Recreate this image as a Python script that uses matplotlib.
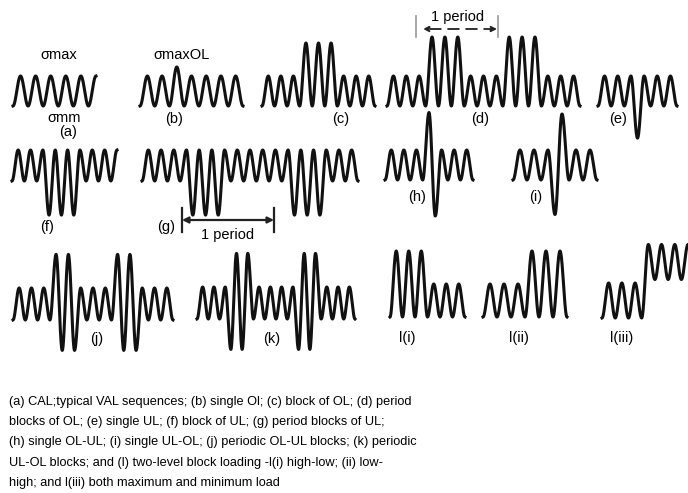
import numpy as np
import matplotlib.pyplot as plt

plt.rcParams['font.family'] = ['Liberation Sans', 'DejaVu Sans']

# ── Load sequences: turning points of each sketch (valley = 0, normal peak = 1) ──
seq_a = [0, 1, 0, 1, 0, 1, 0, 1, 0, 1, 0, 1]
seq_b = [0, 1, 0, 1, 0, 1.3, 0, 1, 0, 1, 0, 1, 0, 1, 0]
seq_c = [0, 1, 0, 1, 0, 1, 0, 2.1, 0, 2.1, 0, 2.1, 0, 1, 0, 1, 0, 1, 0]
seq_d = [0, 1, 0, 1, 0, 1, 0, 2.3, 0, 2.3, 0, 2.3, 0, 1, 0, 1, 0, 1, 0,
         2.3, 0, 2.3, 0, 2.3, 0, 1, 0, 1, 0, 1, 0]
seq_e = [0, 1, 0, 1, 0, 1, -1.07, 1, 0, 1, 0, 1, 0]
seq_f = [0, 1, 0, 1, 0, 1, -1.1, 1, -1.1, 1, -1.1, 1, 0, 1, 0, 1, 0, 1]
seq_g = [0, 1, 0, 1, 0, 1, 0, 1, -1.1, 1, -1.1, 1, -1.1, 1,
         0, 1, 0, 1, 0, 1, 0, 1, 0, 1, -1.1, 1, -1.1, 1, -1.1, 1, 0, 1, 0, 1, 0]
seq_h = [0, 1, 0, 1, 0, 1, 0, 2.25, -1.2, 1, 0, 1, 0, 1, 0]
seq_i = [0, 1, 0, 1, 0, 1, -1.15, 2.2, 0, 1, 0, 1, 0]
seq_j = [0, 1, 0, 1, 0, 1, 0, 2.05, -0.95, 2.05, -0.95, 1, 0, 1, 0, 1, 0,
         2.05, -0.95, 2.05, -0.95, 1, 0, 1, 0, 1, 0]
seq_k = [0, 1, 0, 1, 0, 1, -0.95, 2.05, -0.95, 2.05, 0, 1, 0, 1, 0, 1, 0, 1,
         -0.95, 2.05, -0.95, 2.05, 0, 1, 0, 1, 0, 1, 0]
seq_l1 = [0, 2, 0, 2, 0, 2, 0, 1, 0, 1, 0, 1, 0]
seq_l2 = [0, 1, 0, 1, 0, 1, 0, 2, 0, 2, 0, 2, 0]
seq_l3 = [0, 1, 0, 1, 0, 1, 0, 2.1, 1.1, 2.1, 1.1, 2.1, 1.1, 2.1]

panel_labels = ['(a)', '(b)', '(c)', '(d)', '(e)', '(f)', '(g)', '(h)', '(i)',
                '(j)', '(k)', 'l(i)', 'l(ii)', 'l(iii)']

caption = ["(a) CAL;typical VAL sequences; (b) single Ol; (c) block of OL; (d) period",
           "blocks of OL; (e) single UL; (f) block of UL; (g) period blocks of UL;",
           "(h) single OL-UL; (i) single UL-OL; (j) periodic OL-UL blocks; (k) periodic",
           "UL-OL blocks; and (l) two-level block loading -l(i) high-low; (ii) low-",
           "high; and l(iii) both maximum and minimum load"]

# ── Layout (pixel space): x start, x end, valley y, unit height, label pos ──
layout = [
    (seq_a, 13, 96, 106, 30, (68, 132)),
    (seq_b, 140, 243, 106, 30, (174, 119)),
    (seq_c, 262, 375, 106, 30, (341, 119)),
    (seq_d, 387, 580, 106, 30, (480, 119)),
    (seq_e, 598, 677, 106, 30, (618, 119)),
    (seq_f, 12, 117, 181, 31, (47, 227)),
    (seq_g, 142, 358, 181, 31, (166, 227)),
    (seq_h, 385, 473, 180, 30, (417, 197)),
    (seq_i, 513, 597, 180, 30, (536, 197)),
    (seq_j, 13, 173, 320, 32, (97, 339)),
    (seq_k, 197, 355, 319, 32, (272, 339)),
    (seq_l1, 390, 465, 317, 33, (407, 338)),
    (seq_l2, 483, 567, 317, 33, (519, 338)),
    (seq_l3, 602, 688, 318, 35, (622, 338)),
]


def wave(ext, x0, x1, base, unit, n=30):
    ext = np.asarray(ext, dtype=float)
    xs = np.linspace(x0, x1, len(ext))
    px, py = [], []
    t = np.linspace(0, 1, n, endpoint=False)
    for k in range(len(ext) - 1):
        s = (1 - np.cos(np.pi * t)) / 2
        px.append(xs[k] + (xs[k + 1] - xs[k]) * t)
        py.append(ext[k] + (ext[k + 1] - ext[k]) * s)
    px.append([xs[-1]])
    py.append([ext[-1]])
    return np.concatenate(px), base - unit * np.concatenate(py)


fig = plt.figure(figsize=(6.88, 4.93), dpi=100)
ax = fig.add_axes([0, 0, 1, 1])
ax.set_xlim(0, 688)
ax.set_ylim(493, 0)
ax.axis('off')

for (ext, x0, x1, base, unit, lpos), lab in zip(layout, panel_labels):
    X, Y = wave(ext, x0, x1, base, unit)
    ax.plot(X, Y, color='#111111', lw=2.2, solid_joinstyle='round')
    ax.text(lpos[0], lpos[1], lab, ha='center', va='center', fontsize=10.5)

# ── stress level labels ──
ax.text(59, 55, 'σmax', ha='center', va='center', fontsize=10.5)
ax.text(64, 118, 'σmm', ha='center', va='center', fontsize=10.5)
ax.text(182, 55, 'σmaxOL', ha='center', va='center', fontsize=10.5)

# ── 1 period marker on (d) ──
for xv in (416, 498):
    ax.plot([xv, xv], [16, 37], color='#999999', lw=1.2)
ax.annotate('', xy=(423, 29), xytext=(497, 29),
            arrowprops=dict(arrowstyle='<|-|>', lw=1.3, ls=(0, (6, 4)), color='#222222',
                            mutation_scale=8, shrinkA=0, shrinkB=0))
ax.text(458, 17, '1 period', ha='center', va='center', fontsize=10.5,
        bbox=dict(facecolor='white', edgecolor='none', pad=0.5))

# ── 1 period marker on (g) ──
for xv in (182, 274):
    ax.plot([xv, xv], [208, 232], color='#222222', lw=1.6)
ax.annotate('', xy=(182, 220), xytext=(274, 220),
            arrowprops=dict(arrowstyle='<|-|>', lw=1.6, color='#222222',
                            mutation_scale=9, shrinkA=0, shrinkB=0))
ax.text(228, 235, '1 period', ha='center', va='center', fontsize=10.5)

# ── caption ──
for k, line in enumerate(caption):
    ax.text(9, 402 + 20.2 * k, line, ha='left', va='center', fontsize=9.2)

plt.savefig('out.png', dpi=100)
